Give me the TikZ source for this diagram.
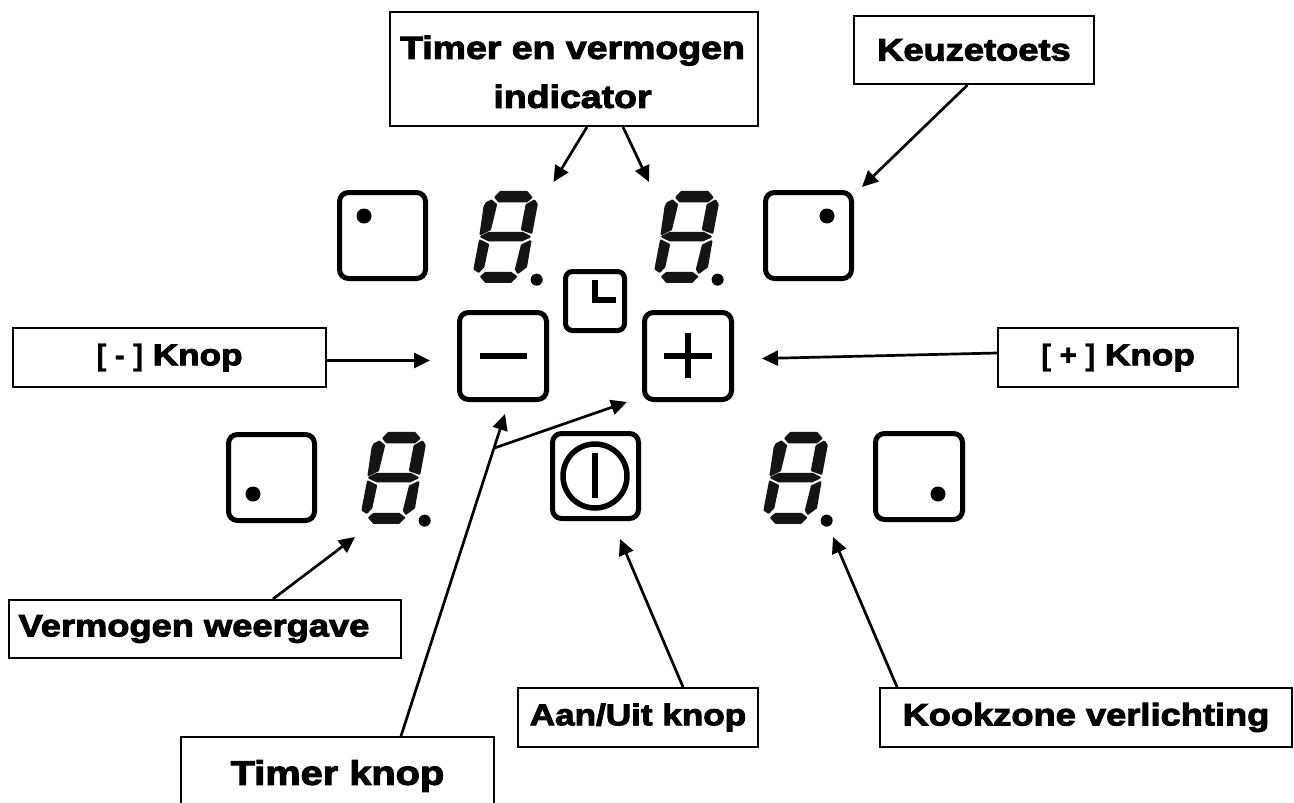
\documentclass[tikz,border=0pt]{standalone}
\usepackage{fontspec}
\setmainfont{Liberation Sans}[BoldFont={Liberation Sans Bold},BoldFeatures={FakeBold=3.2,FakeStretch=1.17}]
\newfontfamily\brk{Liberation Sans Bold}[FakeBold=1]
\usetikzlibrary{arrows.meta}
\newcommand{\lblfont}[1]{\fontsize{#1}{#1}\selectfont\bfseries}
\tikzset{
  label box/.style={draw=black,line width=2pt,fill=white,inner sep=0pt,anchor=north west,align=center,text=black},
  pointer/.style={draw=black,line width=2.7pt,-{Triangle[length=16pt,width=15pt]}},
  panel key/.style={draw=black,line width=5pt,rounded corners=9pt},
  led/.style={fill=black,circle,inner sep=0pt,minimum size=12pt},
  segm/.style={fill=black!92,draw=black!92,line width=2.2pt,line join=round},
}
\newcommand{\sevenseg}[3]{%
 \begin{scope}[shift={(#1,#2)},x=0.3333pt,y=-0.3333pt]
  \path[segm] (526,82)--(542,66)--(620,66)--(634,82)--(620,94)--(537,94)--cycle;
  \path[segm] (514,92)--(528,104)--(510,178)--(482,192)--(494,110)--(499,100)--cycle;
  \path[segm] (643,92)--(650,103)--(634,188)--(606,178)--(620,105)--cycle;
  \path[segm] (484,200)--(507,189)--(608,189)--(629,200)--(605,211)--(507,211)--cycle;
  \path[segm] (480,212)--(504,224)--(490,290)--(476,305)--(464,297)--(466,285)--cycle;
  \path[segm] (631,214)--(618,290)--(594,308)--(588,298)--(606,226)--cycle;
  \path[segm] (484,320)--(497,309)--(573,309)--(588,320)--(573,335)--(497,335)--cycle;
  \node[led] (#3) at (650,329) {};
 \end{scope}}
\begin{document}
\begin{tikzpicture}[x=1pt,y=-1pt]
\path[use as bounding box] (0,0) rectangle (1294,803);
\clip (0,0) rectangle (1294,803);
\fill[white] (0,0) rectangle (1294,803);

% panel keys
\draw[panel key] (339.5,192.5) rectangle (425.5,278.5);
\node[led,minimum size=15pt] (d1) at (364,216) {};
\draw[panel key] (765.5,192.5) rectangle (851.5,278.5);
\node[led,minimum size=15pt] (d2) at (827,216) {};
\draw[panel key] (228.5,434.5) rectangle (314.5,520.5);
\node[led,minimum size=15pt] (d3) at (253,494) {};
\draw[panel key] (875.5,433.5) rectangle (962.5,519.5);
\node[led,minimum size=15pt] (d4) at (938,494) {};

% digits
\sevenseg{320}{170}{dA}
\sevenseg{501}{170}{dB}
\sevenseg{208}{411}{dC}
\sevenseg{610}{411}{dD}

% clock
\draw[panel key,line width=5pt,rounded corners=7pt] (565.5,271.5) rectangle (624.5,330.5);
\draw[black,line width=5.5pt] (595,280) -- (595,300) -- (616,300);

% minus, plus
\draw[panel key] (459.5,312.5) rectangle (546.5,399.5);
\draw[black,line width=6pt] (480,355.5) -- (527,355.5);
\draw[panel key] (644.5,312.5) rectangle (731.5,399.5);
\draw[black,line width=6pt] (664,356) -- (712,356) (688,333) -- (688,378);

% power
\draw[panel key] (552.5,433.5) rectangle (638.5,518.5);
\draw[black,line width=5.5pt] (595,476) circle (32);
\draw[black,line width=6pt] (595,453) -- (595,498);

% labels
\node[label box,minimum width=368pt,minimum height=114pt,font=\fontsize{32}{49}\selectfont\bfseries] (tev) at (389,11) {\rule{0pt}{29pt}\hspace*{-3pt}Timer en vermogen\\\hspace*{-3pt}indicator};
\node[label box,minimum width=240pt,minimum height=68pt,font=\lblfont{31}] (keuze) at (853,15) {\raisebox{-3pt}{Keuzetoets}};
\node[label box,minimum width=313pt,minimum height=59pt,font=\lblfont{30}] (minus) at (12,327) {\raisebox{-1pt}{{\brk [ - ]} Knop}};
\node[label box,minimum width=240pt,minimum height=59pt,font=\lblfont{30}] (plus) at (997,327) {\raisebox{-1pt}{{\brk [ + ]} Knop}};
\node[label box,minimum width=392pt,minimum height=58pt,font=\lblfont{31}] (verm) at (8,599) {\hspace*{-22pt}Vermogen weergave};
\node[label box,minimum width=240pt,minimum height=59pt,font=\lblfont{30}] (aan) at (517,687) {\raisebox{-2pt}{Aan/Uit knop}};
\node[label box,minimum width=412pt,minimum height=59pt,font=\lblfont{31}] (kook) at (879,687) {\raisebox{-2pt}{Kookzone verlichting}};
\node[label box,minimum width=313pt,minimum height=78pt,font=\lblfont{34}] (timer) at (180,736) {Timer knop};

% free ends
\coordinate (tipA) at (553.5,182);
\coordinate (tipB) at (649,182);
\coordinate (tipK) at (862,187);
\coordinate (tipM) at (430,360.5);
\coordinate (tipP) at (762,358.5);
\coordinate (tipV) at (355,537);
\coordinate (tipT) at (505,414);
\coordinate (fork) at (494.5,448);
\coordinate (tipF) at (627,402);
\coordinate (tipU) at (620,539);
\coordinate (tipZ) at (833,537);

% connectors
\draw[pointer] ([xshift=198pt]tev.south west) -- (tipA);
\draw[pointer] ([xshift=234pt]tev.south west) -- (tipB);
\draw[pointer] ([xshift=114.5pt]keuze.south west) -- (tipK);
\draw[pointer] ([yshift=-33.5pt]minus.north east) -- (tipM);
\draw[pointer] ([yshift=-26pt]plus.north west) -- (tipP);
\draw[pointer] ([xshift=265pt]verm.north west) -- (tipV);
\draw[pointer] ([xshift=221pt]timer.north west) -- (tipT);
\draw[pointer] (fork) -- (tipF);
\draw[pointer] ([xshift=166pt]aan.north west) -- (tipU);
\draw[pointer] ([xshift=18pt]kook.north west) -- (tipZ);
\end{tikzpicture}
\end{document}
